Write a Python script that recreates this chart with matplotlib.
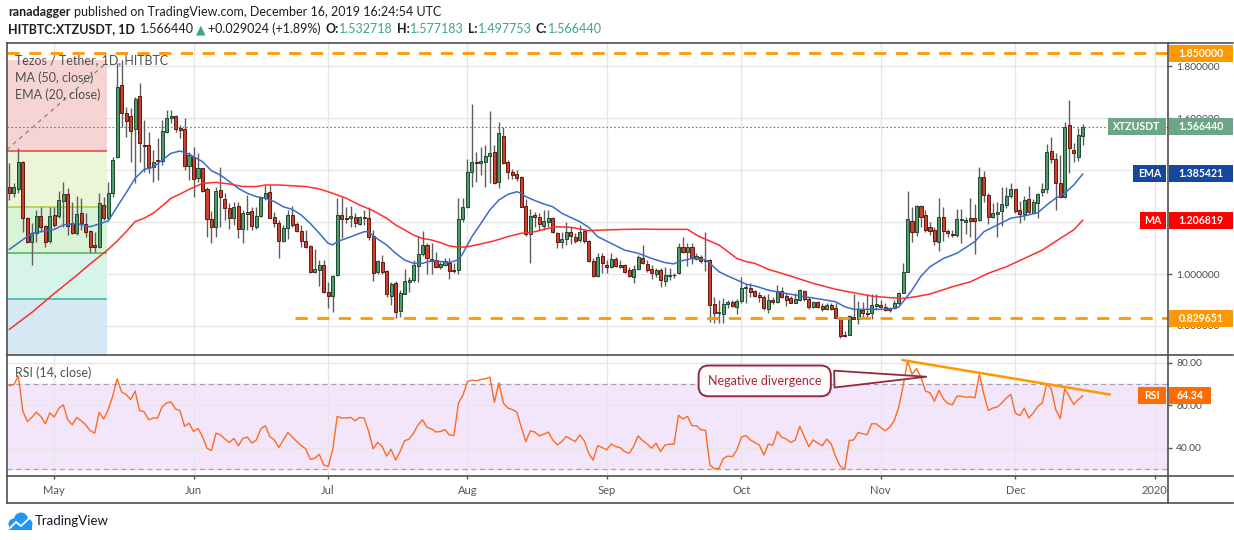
import matplotlib
matplotlib.use("Agg")
import matplotlib.pyplot as plt
import matplotlib.transforms as mtransforms
from matplotlib.patches import Rectangle, Circle
from matplotlib.lines import Line2D
from matplotlib.ticker import FormatStrFormatter, FuncFormatter
import numpy as np
import pandas as pd

plt.rcParams['font.family'] = ['Lato', 'DejaVu Sans']

# ---- daily candles XTZ/USDT, 2019-04-21 .. 2019-12-16 ----
first_day = '2019-04-21'
opens = [
    1.337, 1.313, 1.329, 1.432, 1.215, 1.125, 1.159, 1.224, 1.185, 1.128,
    1.229, 1.224, 1.283, 1.308, 1.195, 1.159, 1.234, 1.193, 1.164, 1.112,
    1.105, 1.266, 1.215, 1.313, 1.450, 1.728, 1.619, 1.609, 1.557, 1.686,
    1.497, 1.496, 1.414, 1.439, 1.434, 1.548, 1.600, 1.609, 1.561, 1.557,
    1.416, 1.452, 1.369, 1.407, 1.326, 1.211, 1.182, 1.324, 1.289, 1.253,
    1.217, 1.262, 1.172, 1.232, 1.243, 1.182, 1.224, 1.292, 1.315, 1.221,
    1.195, 1.128, 1.176, 1.226, 1.193, 1.167, 1.126, 1.108, 1.009, 1.015,
    1.035, 0.932, 0.917, 0.996, 1.227, 1.215, 1.215, 1.220, 1.191, 1.220,
    1.216, 1.146, 1.009, 1.048, 1.012, 0.917, 0.964, 0.859, 0.923, 0.970,
    0.977, 1.032, 1.077, 1.112, 1.057, 1.054, 1.026, 1.033, 1.042, 1.015,
    1.014, 1.211, 1.259, 1.392, 1.432, 1.426, 1.433, 1.456, 1.470, 1.356,
    1.532, 1.432, 1.394, 1.385, 1.375, 1.262, 1.153, 1.227, 1.221, 1.186,
    1.202, 1.215, 1.157, 1.122, 1.134, 1.163, 1.144, 1.131, 1.164, 1.128,
    1.050, 0.994, 1.069, 1.035, 1.026, 1.057, 1.035, 1.035, 1.015, 0.990,
    1.018, 1.062, 1.039, 1.019, 1.000, 1.015, 0.974, 0.992, 0.997, 1.003,
    1.103, 1.086, 1.103, 1.058, 1.067, 1.053, 1.054, 0.883, 0.851, 0.845,
    0.883, 0.891, 0.874, 0.896, 0.945, 0.945, 0.934, 0.919, 0.913, 0.864,
    0.900, 0.893, 0.934, 0.915, 0.906, 0.890, 0.900, 0.934, 0.902, 0.872,
    0.891, 0.877, 0.864, 0.882, 0.868, 0.833, 0.764, 0.766, 0.836, 0.828,
    0.861, 0.851, 0.848, 0.878, 0.881, 0.872, 0.868, 0.868, 0.887, 0.928,
    1.009, 1.206, 1.161, 1.262, 1.227, 1.180, 1.170, 1.125, 1.221, 1.166,
    1.154, 1.150, 1.208, 1.202, 1.216, 1.216, 1.208, 1.373, 1.304, 1.221,
    1.231, 1.244, 1.265, 1.302, 1.326, 1.247, 1.231, 1.288, 1.236, 1.272,
    1.317, 1.326, 1.473, 1.442, 1.349, 1.295, 1.574, 1.478, 1.452, 1.533]
highs = [
    1.426, 1.352, 1.484, 1.435, 1.220, 1.195, 1.247, 1.259, 1.190, 1.259,
    1.259, 1.321, 1.356, 1.330, 1.279, 1.301, 1.292, 1.234, 1.170, 1.163,
    1.313, 1.298, 1.356, 1.450, 1.812, 1.825, 1.645, 1.638, 1.683, 1.735,
    1.593, 1.548, 1.478, 1.523, 1.593, 1.632, 1.632, 1.613, 1.574, 1.600,
    1.471, 1.490, 1.465, 1.410, 1.337, 1.244, 1.337, 1.414, 1.311, 1.272,
    1.279, 1.279, 1.247, 1.304, 1.259, 1.259, 1.298, 1.343, 1.343, 1.240,
    1.208, 1.189, 1.247, 1.262, 1.202, 1.189, 1.170, 1.112, 1.095, 1.054,
    1.054, 0.970, 0.996, 1.292, 1.298, 1.259, 1.262, 1.236, 1.224, 1.247,
    1.259, 1.170, 1.054, 1.073, 1.015, 0.970, 0.974, 0.938, 1.018, 0.990,
    1.054, 1.148, 1.164, 1.118, 1.121, 1.086, 1.045, 1.060, 1.060, 1.041,
    1.292, 1.292, 1.442, 1.655, 1.469, 1.491, 1.497, 1.629, 1.497, 1.587,
    1.568, 1.439, 1.403, 1.401, 1.378, 1.288, 1.249, 1.240, 1.234, 1.247,
    1.247, 1.221, 1.163, 1.163, 1.202, 1.182, 1.157, 1.189, 1.170, 1.131,
    1.060, 1.080, 1.080, 1.054, 1.080, 1.067, 1.054, 1.039, 1.028, 1.035,
    1.073, 1.112, 1.054, 1.035, 1.022, 1.022, 1.028, 1.022, 1.003, 1.118,
    1.144, 1.121, 1.118, 1.080, 1.073, 1.163, 1.057, 0.913, 0.900, 0.906,
    0.900, 0.900, 0.902, 0.987, 0.960, 0.964, 0.938, 0.932, 0.919, 0.923,
    0.910, 0.958, 0.949, 0.925, 0.915, 0.928, 0.941, 0.938, 0.913, 0.896,
    0.896, 0.887, 0.890, 0.890, 0.890, 0.836, 0.782, 0.842, 0.923, 0.897,
    0.891, 0.923, 0.923, 0.923, 0.900, 0.890, 0.874, 0.900, 0.932, 1.041,
    1.321, 1.257, 1.266, 1.266, 1.247, 1.202, 1.182, 1.292, 1.259, 1.172,
    1.170, 1.250, 1.249, 1.221, 1.292, 1.270, 1.414, 1.398, 1.311, 1.275,
    1.279, 1.337, 1.337, 1.352, 1.326, 1.283, 1.301, 1.339, 1.288, 1.311,
    1.352, 1.501, 1.529, 1.468, 1.459, 1.587, 1.671, 1.506, 1.564, 1.577]
lows = [
    1.285, 1.298, 1.311, 1.163, 1.118, 1.035, 1.125, 1.163, 1.105, 1.121,
    1.182, 1.215, 1.182, 1.150, 1.154, 1.150, 1.170, 1.144, 1.086, 1.086,
    1.099, 1.208, 1.208, 1.298, 1.446, 1.568, 1.529, 1.433, 1.349, 1.433,
    1.394, 1.390, 1.356, 1.362, 1.420, 1.542, 1.581, 1.548, 1.523, 1.401,
    1.362, 1.298, 1.356, 1.317, 1.144, 1.118, 1.144, 1.180, 1.208, 1.172,
    1.189, 1.140, 1.121, 1.170, 1.170, 1.172, 1.221, 1.285, 1.215, 1.182,
    1.060, 1.125, 1.135, 1.182, 1.163, 1.105, 1.099, 1.005, 1.005, 0.954,
    0.925, 0.868, 0.855, 0.992, 1.137, 1.195, 1.182, 1.182, 1.189, 1.189,
    1.131, 0.974, 0.999, 1.000, 0.913, 0.881, 0.829, 0.833, 0.923, 0.932,
    0.970, 0.970, 1.069, 1.000, 1.000, 1.022, 1.018, 1.031, 0.979, 1.005,
    0.999, 1.202, 1.253, 1.337, 1.356, 1.381, 1.334, 1.349, 1.347, 1.333,
    1.424, 1.365, 1.365, 1.360, 1.257, 1.148, 1.041, 1.182, 1.170, 1.170,
    1.182, 1.157, 1.099, 1.099, 1.112, 1.116, 1.118, 1.125, 1.118, 1.048,
    0.990, 0.990, 1.003, 1.005, 1.022, 1.026, 1.022, 1.005, 0.987, 0.967,
    1.015, 1.039, 1.009, 0.982, 0.987, 0.951, 0.954, 0.977, 0.983, 1.000,
    1.080, 1.031, 1.039, 1.054, 1.044, 1.013, 0.816, 0.812, 0.812, 0.812,
    0.868, 0.874, 0.845, 0.887, 0.887, 0.913, 0.913, 0.893, 0.861, 0.851,
    0.884, 0.890, 0.909, 0.877, 0.887, 0.887, 0.897, 0.897, 0.864, 0.868,
    0.868, 0.859, 0.861, 0.861, 0.829, 0.752, 0.759, 0.765, 0.825, 0.807,
    0.836, 0.829, 0.827, 0.861, 0.868, 0.859, 0.855, 0.864, 0.881, 0.925,
    1.009, 1.125, 1.146, 1.182, 1.163, 1.149, 1.112, 1.090, 1.128, 1.144,
    1.144, 1.144, 1.118, 1.154, 1.144, 1.076, 1.206, 1.279, 1.191, 1.215,
    1.144, 1.185, 1.253, 1.292, 1.236, 1.195, 1.208, 1.234, 1.234, 1.215,
    1.301, 1.311, 1.429, 1.247, 1.292, 1.292, 1.388, 1.433, 1.435, 1.498]
closes = [
    1.311, 1.337, 1.432, 1.215, 1.125, 1.159, 1.224, 1.182, 1.125, 1.224,
    1.189, 1.285, 1.308, 1.185, 1.159, 1.231, 1.198, 1.163, 1.105, 1.105,
    1.272, 1.217, 1.313, 1.439, 1.722, 1.619, 1.591, 1.552, 1.673, 1.504,
    1.495, 1.411, 1.430, 1.437, 1.551, 1.602, 1.609, 1.557, 1.555, 1.416,
    1.459, 1.365, 1.407, 1.321, 1.211, 1.180, 1.320, 1.298, 1.253, 1.217,
    1.257, 1.175, 1.234, 1.239, 1.185, 1.224, 1.292, 1.311, 1.217, 1.195,
    1.128, 1.176, 1.226, 1.190, 1.167, 1.126, 1.105, 1.009, 1.018, 1.035,
    0.932, 0.917, 0.994, 1.227, 1.212, 1.211, 1.224, 1.195, 1.220, 1.215,
    1.141, 1.005, 1.049, 1.009, 0.923, 0.961, 0.855, 0.925, 0.973, 0.977,
    1.035, 1.077, 1.112, 1.060, 1.049, 1.026, 1.039, 1.049, 1.013, 1.013,
    1.211, 1.259, 1.393, 1.432, 1.426, 1.437, 1.455, 1.468, 1.352, 1.543,
    1.426, 1.394, 1.381, 1.369, 1.259, 1.153, 1.224, 1.218, 1.191, 1.204,
    1.217, 1.161, 1.122, 1.135, 1.163, 1.146, 1.128, 1.162, 1.128, 1.051,
    0.994, 1.064, 1.041, 1.026, 1.057, 1.032, 1.028, 1.009, 0.994, 1.019,
    1.064, 1.041, 1.015, 1.003, 1.015, 0.977, 0.996, 0.997, 0.995, 1.103,
    1.086, 1.103, 1.060, 1.069, 1.051, 1.050, 0.881, 0.848, 0.855, 0.883,
    0.891, 0.878, 0.896, 0.945, 0.949, 0.929, 0.917, 0.910, 0.868, 0.900,
    0.891, 0.934, 0.913, 0.900, 0.890, 0.904, 0.938, 0.902, 0.872, 0.891,
    0.874, 0.864, 0.882, 0.866, 0.832, 0.761, 0.761, 0.838, 0.828, 0.864,
    0.848, 0.846, 0.881, 0.884, 0.872, 0.861, 0.861, 0.887, 0.928, 1.009,
    1.211, 1.163, 1.262, 1.218, 1.170, 1.167, 1.127, 1.221, 1.167, 1.157,
    1.150, 1.211, 1.212, 1.208, 1.206, 1.206, 1.373, 1.303, 1.221, 1.234,
    1.239, 1.270, 1.301, 1.326, 1.244, 1.231, 1.285, 1.238, 1.276, 1.308,
    1.328, 1.469, 1.444, 1.352, 1.298, 1.565, 1.484, 1.468, 1.536, 1.566]

# EMA(20) and MA(50), read at day offsets from first_day
ema_day = [0, 5, 10, 12, 15, 18, 20, 22, 24, 26, 28, 30, 32, 34, 36, 38, 40, 43, 45, 47,
           49, 51, 53, 55, 57, 59, 61, 63, 65, 67, 69, 71, 72, 73, 75, 77, 79, 80, 81, 82,
           84, 86, 88, 90, 92, 94, 96, 98, 100, 101, 103, 105, 107, 109, 111, 113, 114, 115, 117, 119,
           121, 123, 125, 127, 129, 131, 134, 137, 140, 143, 146, 148, 149, 152, 155, 156, 158, 160, 162, 164,
           166, 169, 172, 175, 178, 181, 184, 186, 188, 191, 194, 196, 198, 199, 201, 203, 205, 208, 211, 215,
           217, 220, 223, 226, 229, 231, 233, 235, 237, 239]
ema_val = [1.095, 1.157, 1.172, 1.189, 1.195, 1.182, 1.193, 1.204, 1.259, 1.313, 1.369, 1.403, 1.411, 1.439, 1.465, 1.474, 1.462, 1.433, 1.398, 1.381,
           1.356, 1.330, 1.311, 1.298, 1.292, 1.279, 1.259, 1.249, 1.227, 1.195, 1.157, 1.118, 1.112, 1.125, 1.137, 1.150, 1.163, 1.163, 1.148, 1.135,
           1.112, 1.080, 1.054, 1.041, 1.041, 1.051, 1.048, 1.044, 1.055, 1.080, 1.144, 1.195, 1.247, 1.285, 1.307, 1.317, 1.311, 1.298, 1.283, 1.270,
           1.259, 1.234, 1.218, 1.202, 1.180, 1.144, 1.118, 1.092, 1.080, 1.060, 1.044, 1.039, 1.048, 1.060, 1.054, 1.041, 1.009, 0.992, 0.977, 0.961,
           0.954, 0.938, 0.928, 0.919, 0.910, 0.902, 0.893, 0.874, 0.864, 0.864, 0.864, 0.865, 0.872, 0.893, 0.938, 0.992, 1.028, 1.060, 1.080, 1.125,
           1.163, 1.189, 1.215, 1.224, 1.236, 1.266, 1.292, 1.311, 1.343, 1.385]
ma_day = [0, 5, 10, 15, 18, 20, 22, 24, 26, 28, 30, 32, 34, 36, 38, 40, 43, 46, 49, 52,
          55, 57, 60, 63, 66, 69, 72, 75, 78, 81, 84, 86, 88, 90, 92, 94, 96, 98, 100, 102,
          105, 108, 111, 114, 117, 120, 122, 125, 129, 133, 137, 141, 145, 149, 151, 153, 155, 158, 160, 162,
          164, 166, 169, 174, 179, 184, 188, 192, 196, 199, 202, 205, 210, 214, 218, 222, 226, 230, 234, 237, 239]
ma_val = [0.787, 0.852, 0.925, 0.995, 1.039, 1.067, 1.095, 1.127, 1.163, 1.202, 1.215, 1.234, 1.262, 1.292, 1.308, 1.326, 1.349, 1.353, 1.347, 1.337,
          1.337, 1.343, 1.343, 1.340, 1.337, 1.328, 1.311, 1.292, 1.266, 1.244, 1.215, 1.189, 1.170, 1.150, 1.137, 1.131, 1.121, 1.108, 1.103, 1.105,
          1.116, 1.128, 1.144, 1.157, 1.163, 1.176, 1.182, 1.180, 1.167, 1.170, 1.172, 1.173, 1.172, 1.172, 1.172, 1.150, 1.134, 1.112, 1.086, 1.060,
          1.048, 1.041, 1.018, 0.992, 0.964, 0.941, 0.928, 0.915, 0.909, 0.906, 0.913, 0.923, 0.951, 0.970, 1.003, 1.028, 1.060, 1.092, 1.137, 1.170, 1.207]

rsi = [
    69.2, 69.7, 73.7, 57.1, 52.3, 54.2, 56.7, 54.7, 51.2, 56.3,
    54.4, 58.5, 60.1, 53.1, 50.7, 54.2, 52.6, 50.7, 47.9, 46.8,
    56.6, 53.4, 57.9, 64.2, 72.4, 66.1, 65.0, 62.6, 66.6, 57.4,
    56.9, 53.1, 53.9, 53.9, 59.1, 61.0, 61.5, 58.2, 57.4, 50.0,
    51.5, 47.6, 49.0, 45.2, 39.7, 38.6, 46.8, 46.0, 44.0, 42.4,
    44.3, 40.8, 44.4, 44.9, 42.1, 43.6, 48.9, 50.3, 45.2, 43.6,
    40.0, 43.6, 47.1, 44.9, 42.8, 40.9, 39.4, 34.5, 34.9, 36.8,
    31.8, 31.1, 38.9, 54.7, 53.9, 53.9, 54.2, 52.6, 54.2, 53.9,
    47.6, 39.4, 42.4, 40.5, 36.0, 39.2, 34.1, 38.1, 43.2, 44.0,
    46.8, 50.7, 53.1, 49.5, 48.8, 47.3, 47.6, 48.4, 45.9, 45.7,
    61.0, 64.7, 71.0, 71.8, 71.5, 72.1, 72.4, 73.2, 61.3, 70.5,
    61.0, 58.6, 57.9, 56.7, 49.5, 42.8, 47.9, 47.3, 45.5, 46.3,
    47.3, 43.6, 41.2, 42.8, 45.2, 44.0, 42.8, 45.9, 43.3, 37.3,
    34.1, 40.9, 40.0, 38.9, 41.7, 40.5, 40.0, 38.1, 37.3, 40.5,
    45.5, 43.3, 41.7, 39.7, 42.1, 38.1, 41.2, 41.6, 41.6, 55.2,
    53.4, 54.7, 50.3, 50.3, 48.4, 48.1, 31.8, 30.0, 30.2, 34.9,
    36.0, 35.7, 38.9, 44.9, 45.7, 43.6, 42.4, 41.2, 36.5, 41.6,
    41.2, 47.6, 44.9, 44.0, 42.4, 43.6, 50.0, 45.2, 40.5, 43.6,
    42.1, 40.8, 44.0, 41.7, 35.7, 31.3, 29.7, 43.3, 43.6, 47.1,
    46.5, 46.0, 51.2, 51.2, 49.5, 47.9, 49.5, 52.6, 58.6, 68.9,
    80.8, 74.5, 77.2, 73.2, 66.6, 65.8, 61.8, 67.0, 62.9, 60.7,
    60.2, 64.2, 64.2, 63.7, 63.9, 63.4, 74.5, 65.0, 57.5, 58.6,
    59.1, 61.0, 63.4, 65.0, 56.3, 55.0, 58.6, 53.9, 56.3, 59.4,
    61.0, 70.0, 67.7, 57.9, 53.6, 67.7, 64.2, 60.2, 62.6, 64.34]

# levels / annotations
resistance = 1.85
support = 0.829651
last_price = 1.566440
ema_last = 1.385421
ma_last = 1.206819
rsi_last = 64.34
fib_top, fib_range = 1.826, 1.49
fib_ratios = [0.236, 0.382, 0.5, 0.618, 0.786]
fib_fill = ['#f6d4d4', '#edf5d8', '#daf3d6', '#d6f4ea', '#d5e8f4']
fib_line = ['#e0483c', '#a6cf3e', '#4db255', '#2fb99a', '#d5e8f4']
rsi_trend_day = [198.9, 245.0]
rsi_trend_val = [81.2, 65.0]

month_labels = ['May', 'Jun', 'Jul', 'Aug', 'Sep', 'Oct', 'Nov', 'Dec', '2020']

# ---------------------------------------------------------------
o = np.array(opens); h = np.array(highs); lo = np.array(lows); c = np.array(closes)
assert len(o) == len(h) == len(lo) == len(c) == len(rsi) == 240
x = np.arange(len(c))
start = pd.Timestamp(first_day)
xm = np.array([(m - start).days for m in pd.date_range('2019-05-01', '2020-01-01', freq='MS')])

W, H = 1234, 540
L, R, T, MID, BOT, FRB = 7, 1168, 43, 355, 476, 503
fig = plt.figure(figsize=(W / 100, H / 100), dpi=100)
PX = mtransforms.Affine2D().scale(1 / 100, -1 / 100).translate(0, H / 100) + fig.dpi_scale_trans

ax = fig.add_axes([L / W, 1 - MID / H, (R - L) / W, (MID - T) / H])
rx = fig.add_axes([L / W, 1 - BOT / H, (R - L) / W, (BOT - MID) / H])
grid_c = '#e6e6e6'
for a in (ax, rx):
    a.set_xlim(-0.53, 258.0)
    for s in a.spines.values():
        s.set_visible(False)
    a.set_xticks(xm)
    a.grid(True, color=grid_c, lw=1)
    a.set_axisbelow(True)
    a.yaxis.tick_right()
    a.tick_params(axis='y', length=3, width=1, color='#555555', labelsize=7.4,
                  labelcolor='#4a4a4a', pad=3)
ax.tick_params(axis='x', length=0, labelbottom=False)
rx.tick_params(axis='x', length=2.5, width=1, color='#555555', labelbottom=False)

# ---- price panel ----
ax.set_ylim(0.688, 1.890)
ax.set_yticks([0.8, 1.0, 1.2, 1.4, 1.6, 1.8])
# scale labels that sit fully under the EMA / MA tags are not shown
ax.yaxis.set_major_formatter(FuncFormatter(
    lambda v, p: '' if min(abs(v - ema_last), abs(v - ma_last)) < 0.03 else f'{v:.6f}'))

fx0, fx1 = -0.53, 21.8
fib_lv = [fib_top - r * fib_range for r in fib_ratios]
prev = fib_top
for lv, fcol, lcol in zip(fib_lv, fib_fill, fib_line):
    ax.add_patch(Rectangle((fx0, lv), fx1 - fx0, prev - lv, fc=fcol, ec='none', zorder=1.2))
    ax.hlines(lv, fx0, fx1, color=lcol, lw=1.1, zorder=1.4)
    prev = lv
ax.plot([-0.6, 21.7], [fib_lv[0] + 0.004, 1.815], color='#8c8c8c', lw=1, ls=(0, (3, 3)), zorder=1.5)

ax.hlines(resistance, -0.53, 258, color='#ff9800', lw=2, ls=(0, (4.4, 3.4)), zorder=6)
ax.hlines(support, 63.6, 258, color='#ff9800', lw=2, ls=(0, (4.4, 3.4)), zorder=6)
ax.axhline(last_price, color='#4f8f6a', lw=0.8, ls=(0, (1.5, 2)), zorder=2)

up = c >= o
body_lo = np.minimum(o, c)
body_h = np.maximum(np.abs(c - o), 0.0025)
ax.vlines(x, np.minimum(lo, body_lo), np.maximum(h, np.maximum(o, c)), color='#5e5e5e', lw=1, zorder=3)
ax.bar(x[up], body_h[up], bottom=body_lo[up], width=0.68, color='#4f9b6c', edgecolor='#1d4a2e', lw=0.7, zorder=4)
ax.bar(x[~up], body_h[~up], bottom=body_lo[~up], width=0.68, color='#cf3f2c', edgecolor='#5e1a10', lw=0.7, zorder=4)
ax.plot(ema_day, ema_val, color='#3a6ccc', lw=1.1, zorder=5)
ax.plot(ma_day, ma_val, color='#ff2e2e', lw=1.1, zorder=5)

# ---- RSI panel ----
rx.set_ylim(26.6, 83.6)
rx.set_yticks([40, 60, 80])
rx.yaxis.set_major_formatter(FormatStrFormatter('%.2f'))
rx.axhspan(30, 70, color='#f3e6fb', zorder=0.5)
for lv in (30, 70):
    rx.axhline(lv, color='#a7a1b2', lw=0.9, ls=(0, (4, 3)), zorder=1)
rx.plot(x, rsi, color='#ff6a1f', lw=1.0, zorder=4)
rx.plot(rsi_trend_day, rsi_trend_val, color='#ff9800', lw=1.8, zorder=5)
rx.annotate('Negative divergence', xy=(204.8, 73.4), xytext=(168.2, 71.4),
            ha='center', va='center', fontsize=9, color='#a3283a', zorder=8,
            bbox=dict(boxstyle='round,pad=0.75,rounding_size=0.8', fc='#fffafb', ec='#93293c', lw=1.4),
            arrowprops=dict(arrowstyle='wedge,tail_width=1.35,shrink_factor=0.5',
                            fc='#fffafb', ec='#93293c', lw=1.3))


# ---- price tags on the right ----
def tag(a, y, text, color, x0, x1, hpx=17, fs=7.6):
    tr = mtransforms.blended_transform_factory(a.transAxes, a.transData)
    y0, y1 = a.get_ylim()
    ph = a.get_position().height * H
    hh = hpx * (y1 - y0) / ph
    X0, X1 = (x0 - L) / (R - L), (x1 - L) / (R - L)
    a.add_patch(Rectangle((X0, y - hh / 2), X1 - X0, hh, transform=tr, fc=color, ec='none',
                          clip_on=False, zorder=10))
    a.text((X0 + X1) / 2, y, text, transform=tr, color='white', ha='center', va='center',
           fontsize=fs, fontweight='bold', clip_on=False, zorder=11)


tag(ax, resistance, f'{resistance:.6f}', '#ff9800', 1169, 1233)
tag(ax, last_price, 'XTZUSDT', '#6da687', 1108, 1166)
tag(ax, last_price, f'{last_price:.6f}', '#6da687', 1169, 1233)
tag(ax, ema_last, 'EMA', '#16479f', 1133, 1166)
tag(ax, ema_last, f'{ema_last:.6f}', '#16479f', 1169, 1233)
tag(ax, ma_last, 'MA', '#ff0000', 1140, 1166)
tag(ax, ma_last, f'{ma_last:.6f}', '#ff0000', 1169, 1233)
tag(ax, support, f'{support:.6f}', '#ff9800', 1169, 1233)
tag(rx, rsi_last, 'RSI', '#ff6d00', 1138, 1166)
tag(rx, rsi_last, f'{rsi_last:.2f}', '#ff6d00', 1169, 1211)

# ---- month labels ----
mt = mtransforms.blended_transform_factory(rx.transData, PX)
clip = mtransforms.TransformedBbox(mtransforms.Bbox([[0, 0], [R / 100, H / 100]]), fig.dpi_scale_trans)
for xv, lab in zip(xm, month_labels):
    t = fig.text(xv, 491, lab, transform=mt, ha='center', va='center', fontsize=8, color='#555555')
    t.set_clip_box(clip)

# ---- frame ----
frame = [((L, T), (1233, T)), ((L, FRB), (1233, FRB)), ((L, T), (L, FRB)), ((R, T), (R, FRB)),
         ((L, MID), (1233, MID)), ((L, BOT), (1233, BOT))]
for (xa, ya), (xb, yb) in frame:
    fig.add_artist(Line2D([xa, xb], [ya, yb], transform=PX, color='#4f4f4f', lw=1.2))

# ---- texts ----
fig.text(15, 60, 'Tezos / Tether, 1D, HITBTC', transform=PX, fontsize=9, color='#505050', va='center')
fig.text(15, 78, 'MA (50, close)', transform=PX, fontsize=9, color='#505050', va='center')
fig.text(15, 95, 'EMA (20, close)', transform=PX, fontsize=9, color='#505050', va='center')
fig.text(15, 373, 'RSI (14, close)', transform=PX, fontsize=9, color='#505050', va='center')

dark, teal = '#1e1e1e', '#3ba58f'
rend = fig.canvas.get_renderer()


def text_run(x0, y0, parts, size=9):
    xc = x0
    for s, col, wt, gap in parts:
        t = fig.text(xc, y0, s, transform=PX, fontsize=size, color=col, fontweight=wt, va='center')
        xc += t.get_window_extent(rend).width + gap


text_run(8, 12, [('ranadagger', dark, 'bold', 3.5),
                 ('published on TradingView.com, December 16, 2019 16:24:54 UTC', dark, 'normal', 0)])
text_run(8, 29, [('HITBTC:XTZUSDT, 1D', dark, 'bold', 5),
                 ('1.566440', dark, 'normal', 2), ('▲', teal, 'normal', 2),
                 ('+0.029024 (+1.89%)', dark, 'normal', 5),
                 ('O:', dark, 'bold', 0.5), ('1.532718', teal, 'normal', 4),
                 ('H:', dark, 'bold', 0.5), ('1.577183', teal, 'normal', 4),
                 ('L:', dark, 'bold', 0.5), ('1.497753', teal, 'normal', 4),
                 ('C:', dark, 'bold', 0.5), ('1.566440', teal, 'normal', 0)])

# TradingView logo
for cx, cy, r in [(14, 524, 5.5), (21, 519.5, 7), (27.5, 524, 5)]:
    fig.add_artist(Circle((cx, cy), r, transform=PX, fc='#2196f3', ec='none'))
fig.add_artist(Rectangle((9, 524), 23, 6, transform=PX, fc='#2196f3', ec='none'))
fig.add_artist(Line2D([10, 16, 21, 28], [528, 522, 526, 519.5], transform=PX, color='white', lw=1.3))
fig.text(35, 521, 'TradingView', transform=PX, fontsize=9.5, color='#131722', va='center')

fig.savefig('out.png', dpi=100, facecolor='white')
